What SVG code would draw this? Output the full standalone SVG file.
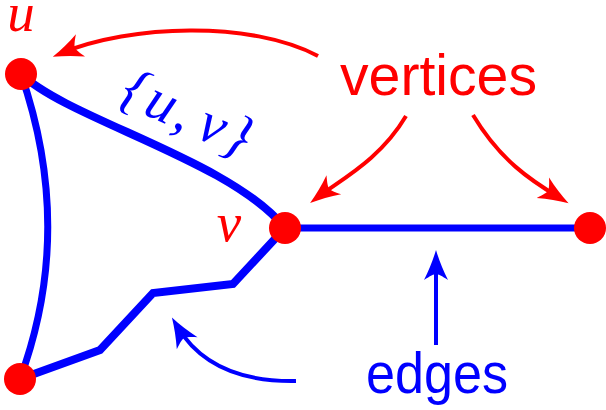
<svg xmlns="http://www.w3.org/2000/svg" width="606" height="410" viewBox="0 0 606 410">
<style>
.edge{fill:none;stroke:#0000ff;stroke-linejoin:miter}
.ra{fill:none;stroke:#ff0000;stroke-width:4}
.ba{fill:none;stroke:#0000ff;stroke-width:4}
.dot{fill:#ff0000}
.math{font-family:"Liberation Serif","DejaVu Serif",serif;font-style:italic}
.word{font-family:"Liberation Sans","DejaVu Sans",sans-serif}
</style>
<defs>
<marker id="arR" viewBox="-32 -13 34 26" refX="-10" refY="0" markerWidth="34" markerHeight="26" markerUnits="userSpaceOnUse" orient="auto">
<path d="M0,0 C-10,-3 -20,-7 -30,-12 C-26,-6 -24,-2 -24,0 C-24,2 -26,6 -30,12 C-20,7 -10,3 0,0Z" fill="#ff0000"/>
</marker>
<marker id="arB" viewBox="-32 -13 34 26" refX="-10" refY="0" markerWidth="34" markerHeight="26" markerUnits="userSpaceOnUse" orient="auto">
<path d="M0,0 C-10,-3 -20,-7 -30,-12 C-26,-6 -24,-2 -24,0 C-24,2 -26,6 -30,12 C-20,7 -10,3 0,0Z" fill="#0000ff"/>
</marker>
</defs>
<g id="connectors">
<path class="edge" stroke-width="8" d="M21,74 C70,120 230,160 285,228"/>
<path class="edge" stroke-width="7" d="M21,74 Q75,230 20,379"/>
<path class="edge" stroke-width="8" d="M20,379 L100,350 L153,293 L233,284 L285,228"/>
<path class="edge" stroke-width="7" d="M285,228 L590,228"/>
<path class="ra" d="M318,56 C250,20 130,25 62,53" marker-end="url(#arR)"/>
<path class="ra" d="M406,116 C380,160 340,180 318,197" marker-end="url(#arR)"/>
<path class="ra" d="M473,115 C500,160 530,180 560,198" marker-end="url(#arR)"/>
<path class="ba" d="M436,345 L436,260" marker-end="url(#arB)"/>
<path class="ba" d="M296,381 C240,382 200,365 177,326" marker-end="url(#arB)"/>
</g>
<g id="node-u">
<circle class="dot" cx="21" cy="74" r="16"/>
<text class="math" x="21" y="31" font-size="55" fill="#ff0000" text-anchor="middle">u</text>
</g>
<g id="node-v">
<circle class="dot" cx="285" cy="228" r="16"/>
<text class="math" x="229" y="241" font-size="55" fill="#ff0000" text-anchor="middle">v</text>
</g>
<g id="node-right">
<circle class="dot" cx="590" cy="228" r="16"/>
</g>
<g id="node-bottom">
<circle class="dot" cx="20" cy="379" r="16"/>
</g>
<g id="label-uv">
<text class="math" transform="translate(187,117) rotate(24)" x="0" y="15" font-size="58" fill="#0000ff" text-anchor="middle" letter-spacing="3">{u,<tspan dx="8">v}</tspan></text>
</g>
<g id="label-vertices">
<text class="word" x="340" y="95" font-size="58" fill="#ff0000" textLength="197" lengthAdjust="spacingAndGlyphs">vertices</text>
</g>
<g id="label-edges">
<text class="word" x="366" y="393" font-size="58" fill="#0000ff" textLength="142" lengthAdjust="spacingAndGlyphs">edges</text>
</g>
</svg>
